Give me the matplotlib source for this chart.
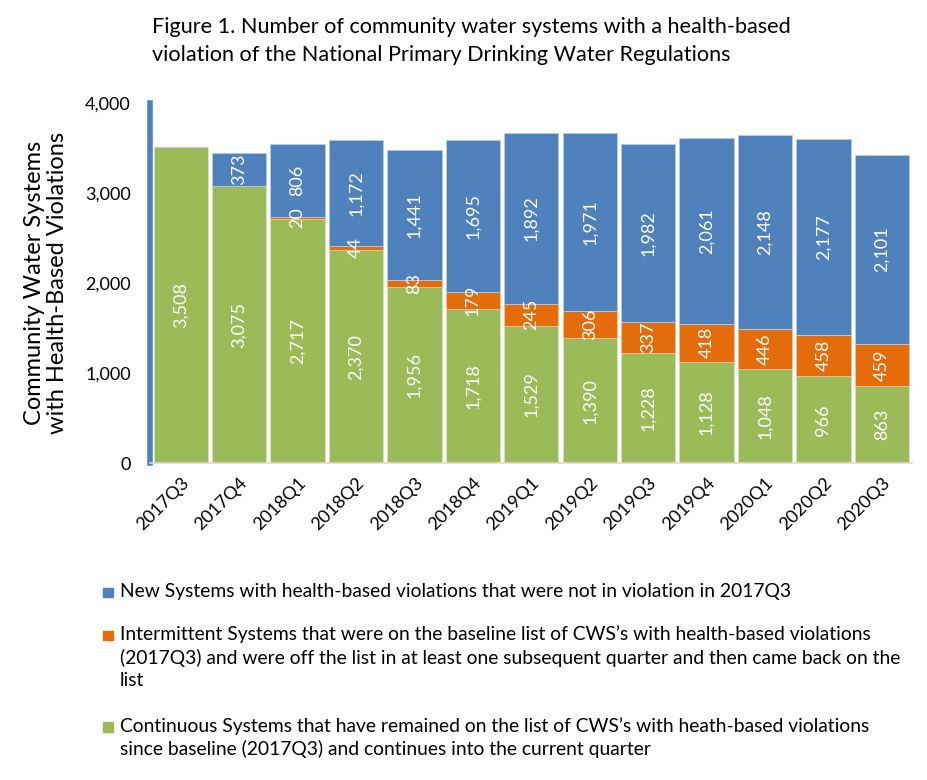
import matplotlib
matplotlib.use("Agg")
import matplotlib.pyplot as plt
from matplotlib.patches import Rectangle
from matplotlib.ticker import FuncFormatter

plt.rcParams["font.family"] = ["Lato", "DejaVu Sans"]

quarters = ["2017Q3", "2017Q4", "2018Q1", "2018Q2", "2018Q3", "2018Q4", "2019Q1",
            "2019Q2", "2019Q3", "2019Q4", "2020Q1", "2020Q2", "2020Q3"]
continuous = [3508, 3075, 2717, 2370, 1956, 1718, 1529, 1390, 1228, 1128, 1048, 966, 863]
intermittent = [0, 0, 20, 44, 83, 179, 245, 306, 337, 418, 446, 458, 459]
new_systems = [0, 373, 806, 1172, 1441, 1695, 1892, 1971, 1982, 2061, 2148, 2177, 2101]

legend_labels = [
    "New Systems with health-based violations that were not in violation in 2017Q3",
    "Intermittent Systems that were on the baseline list of CWS\u2019s with health-based violations\n"
    "(2017Q3) and were off the list in at least one subsequent quarter and then came back on the\n"
    "list",
    "Continuous Systems that have remained on the list of CWS\u2019s with heath-based violations\n"
    "since baseline (2017Q3) and continues into the current quarter",
]

BLUE = "#4F81BD"
ORANGE = "#E46C0A"
GREEN = "#9BBB59"

fig = plt.figure(figsize=(9.28, 7.8), dpi=100)
ax = fig.add_axes([0.162, 0.406, 0.821, 0.462])

x = range(len(quarters))
width = 0.93
bottoms2 = [c + i for c, i in zip(continuous, intermittent)]
b1 = ax.bar(x, continuous, width, color=GREEN, edgecolor="#d6e4bd", linewidth=0.6)
b2 = ax.bar(x, intermittent, width, bottom=continuous, color=ORANGE,
            edgecolor="#f3c09a", linewidth=0.6)
b3 = ax.bar(x, new_systems, width, bottom=bottoms2, color=BLUE,
            edgecolor="#b9cce4", linewidth=0.6)

for bars, vals in ((b1, continuous), (b2, intermittent), (b3, new_systems)):
    for rect, v in zip(bars, vals):
        if v <= 0:
            continue
        cx = rect.get_x() + rect.get_width() / 2
        cy = rect.get_y() + rect.get_height() / 2
        ax.text(cx, cy, f"{v:,}", rotation=90, ha="center", va="center",
                color="white", fontsize=13)

ax.set_xlim(-0.52, 12.52)
ax.set_ylim(0, 4000)
ax.set_yticks([0, 1000, 2000, 3000, 4000])
ax.yaxis.set_major_formatter(FuncFormatter(lambda v, p: f"{int(v):,}"))
ax.set_xticks(list(x))
ax.set_xticklabels(quarters, rotation=45, ha="right", rotation_mode="anchor")
ax.tick_params(axis="both", length=0, labelsize=13, colors="black")
ax.tick_params(axis="y", pad=14)
ax.tick_params(axis="x", pad=8)

for s in ("top", "right"):
    ax.spines[s].set_visible(False)
ax.spines["bottom"].set_color("#d9d9d9")
ax.spines["bottom"].set_linewidth(1.2)
ax.spines["left"].set_color(BLUE)
ax.spines["left"].set_linewidth(4)

ax.set_ylabel("Community Water Systems\nwith Health-Based Violations", fontsize=17,
              labelpad=12, linespacing=1.15)

fig.text(0.164, 0.978,
         "Figure 1. Number of community water systems with a health-based\n"
         "violation of the National Primary Drinking Water Regulations",
         ha="left", va="top", fontsize=15.6, linespacing=1.5)

# legend drawn by hand so the wrapped lines sit like the original
leg_y = [0.240, 0.185, 0.068]
for y, col, lab in zip(leg_y, (BLUE, ORANGE, GREEN), legend_labels):
    fig.patches.append(Rectangle((0.111, y - 0.006), 0.0105, 0.0125, color=col,
                                 transform=fig.transFigure, figure=fig))
    fig.text(0.129, y + 0.013, lab, ha="left", va="top", fontsize=13.9,
             linespacing=1.36)

fig.savefig("out.png", dpi=100)
